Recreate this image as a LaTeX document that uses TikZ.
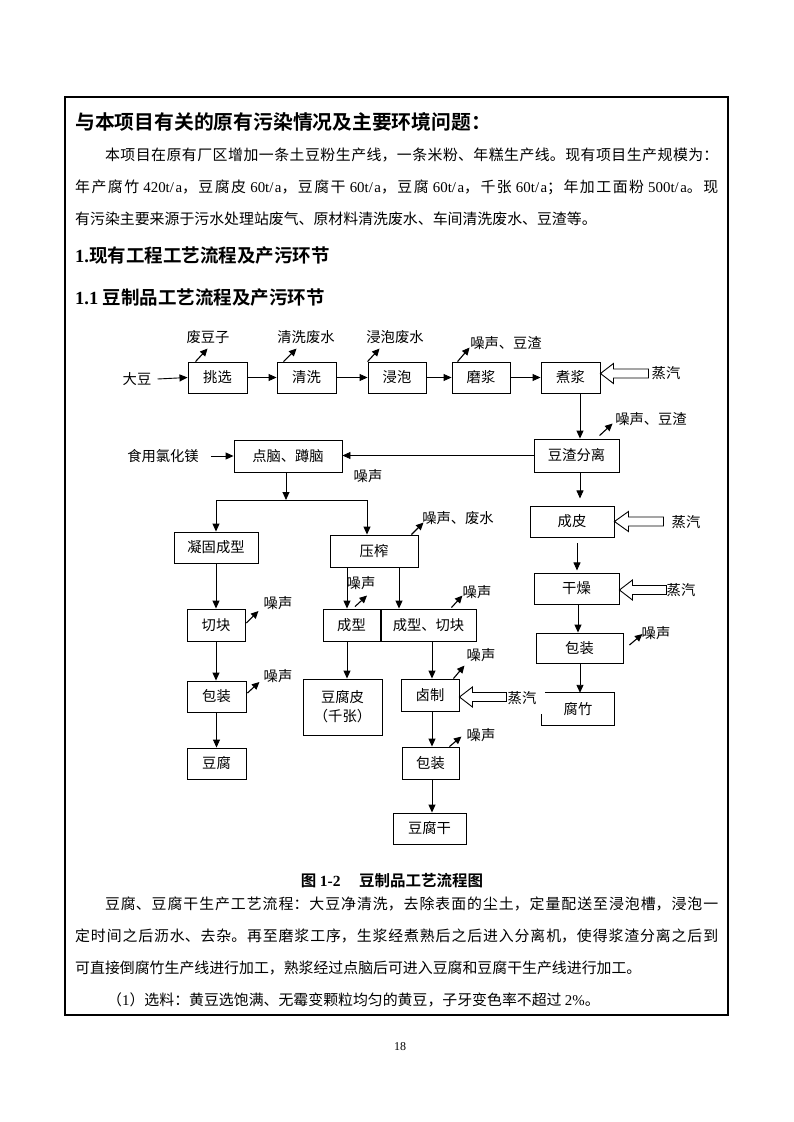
\documentclass[tikz,border=0pt]{standalone}
\usepackage{fontspec}
\setmainfont{Noto Sans CJK SC}[BoldFont={Noto Sans CJK SC Bold}]
\newfontfamily\tnr{Liberation Serif}
\usetikzlibrary{arrows.meta,calc}
\XeTeXlinebreaklocale "zh"
\XeTeXlinebreakskip = 0pt plus 3pt
\newcommand\bodyfs{\fontsize{14.9}{20}\selectfont}
\newcommand\chartfs{\fontsize{14.3}{17}\selectfont}
\begin{document}
\begin{tikzpicture}[x=1pt,y=-1pt,
  box/.style={draw, line width=0.9pt, inner sep=0pt, font=\chartfs},
  lbl/.style={inner sep=0pt, font=\chartfs},
  arr/.style={-{Triangle[length=8pt,width=7pt]}, line width=0.9pt},
  emit/.style={-{Triangle[length=7.5pt,width=7pt]}, line width=1.1pt},
  steam/.style={draw, line width=0.9pt, line join=miter},
  ln/.style={line width=0.9pt},
  txt/.style={anchor=base west, inner sep=0pt, font=\bodyfs}]
\useasboundingbox (0,0) rectangle (793,1122);
\fill[white] (0,0) rectangle (793,1122);
% frame
\draw[line width=1.5pt] (65,97) rectangle (728,1015);

% ---------- text above ----------
\node[anchor=base west, inner sep=0pt, font=\fontsize{19.8}{22}\selectfont\bfseries] (title) at (75,129.5) {与本项目有关的原有污染情况及主要环境问题：};
\node[txt] (p1a) at (75,160.7) {\parbox[b]{643pt}{\bodyfs\parfillskip=0pt\hspace*{2em}本项目在原有厂区增加一条土豆粉生产线，一条米粉、年糕生产线。现有项目生产规模为：}};
\node[txt] (p1b) at (75,192.7) {\parbox[b]{643pt}{\bodyfs\parfillskip=0pt 年产腐竹 {\tnr 420t/a}，豆腐皮 {\tnr 60t/a}，豆腐干 {\tnr 60t/a}，豆腐 {\tnr 60t/a}，千张 {\tnr 60t/a}；年加工面粉 {\tnr 500t/a}。现}};
\node[txt] (p1c) at (75,224.7) {有污染主要来源于污水处理站废气、原材料清洗废水、车间清洗废水、豆渣等。};
\node[anchor=base west, inner sep=0pt, font=\fontsize{18.5}{22}\selectfont\bfseries] (h1) at (75,262) {{\tnr\bfseries 1.}现有工程工艺流程及产污环节};
\node[anchor=base west, inner sep=0pt, font=\fontsize{18.5}{22}\selectfont\bfseries] (h2) at (75,304) {{\tnr\bfseries 1.1 }豆制品工艺流程及产污环节};

% ---------- boxes ----------
\node[box, minimum width=59pt, minimum height=31pt] (tiaoxuan) at (217.5,377.5) {挑选};
\node[box, minimum width=59pt, minimum height=31pt] (qingxi) at (306.5,377.5) {清洗};
\node[box, minimum width=58pt, minimum height=31pt] (jinpao) at (397,377.5) {浸泡};
\node[box, minimum width=58pt, minimum height=31pt] (mojiang) at (481,377.5) {磨浆};
\node[box, minimum width=59pt, minimum height=31pt] (zhujiang) at (570.5,377.5) {煮浆};
\node[box, minimum width=85pt, minimum height=33pt] (douzha) at (576.5,455.5) {豆渣分离};
\node[box, minimum width=108pt, minimum height=32pt] (diannao) at (288,456) {点脑、蹲脑};
\node[box, minimum width=84pt, minimum height=31pt] (ninggu) at (216,547.5) {凝固成型};
\node[box, minimum width=88pt, minimum height=32pt] (yazha) at (374,551) {压榨};
\node[box, minimum width=58pt, minimum height=32pt] (qiekuai) at (216,625) {切块};
\node[box, minimum width=57pt, minimum height=32pt] (chengxing) at (351.5,625) {成型};
\node[box, minimum width=95pt, minimum height=32pt] (chengxingqk) at (428.5,625) {成型、切块};
\node[box, minimum width=59pt, minimum height=31pt] (baozhuang1) at (216.5,696.5) {包装};
\node[box, minimum width=59pt, minimum height=31pt] (doufu) at (216.5,763.5) {豆腐};
\node[box, minimum width=79pt, minimum height=56pt, align=center] (doufupi) at (342.5,707) {豆腐皮\\[2pt]（千张）};
\node[box, minimum width=58pt, minimum height=32pt] (luzhi) at (430,695) {卤制};
\node[box, minimum width=57pt, minimum height=32pt] (baozhuang2) at (430.5,763) {包装};
\node[box, minimum width=73pt, minimum height=31pt] (doufugan) at (429.5,828.5) {豆腐干};
\node[box, minimum width=84pt, minimum height=31pt] (chengpi) at (572,521.5) {成皮};
\node[box, minimum width=85pt, minimum height=31pt] (ganzao) at (576.5,588.5) {干燥};
\node[box, minimum width=87pt, minimum height=30pt] (baozhuang3) at (579.5,648) {包装};
\node[lbl, minimum width=72pt, minimum height=32pt] (fuzhu) at (578,709) {腐竹};
\draw[ln] ([xshift=3pt]fuzhu.north west) -- (fuzhu.north east) -- (fuzhu.south east) -- (fuzhu.south west) -- ([yshift=11pt]fuzhu.south west);

% ---------- labels ----------
\node[lbl] (dadou) at (137,379) {大豆};
\node[lbl] (mgcl) at (163,456) {食用氯化镁};
\node[lbl] (e1) at (208,337) {废豆子};
\node[lbl] (e2) at (306,337) {清洗废水};
\node[lbl] (e3) at (395,337) {浸泡废水};
\node[lbl] (e4) at (506,343) {噪声、豆渣};
\node[lbl] (e5) at (651,419) {噪声、豆渣};
\node[lbl] (e6) at (368,476) {噪声};
\node[lbl] (e7) at (458,518) {噪声、废水};
\node[lbl] (e8) at (278,603) {噪声};
\node[lbl] (e9) at (361,583) {噪声};
\node[lbl] (e10) at (477,592) {噪声};
\node[lbl] (e11) at (278,676) {噪声};
\node[lbl] (e12) at (481,655) {噪声};
\node[lbl] (e13) at (481,735) {噪声};
\node[lbl] (e14) at (656,633) {噪声};
\node[lbl] (s1) at (666,373) {蒸汽};
\node[lbl] (s2) at (686,522) {蒸汽};
\node[lbl] (s3) at (681,590) {蒸汽};
\node[lbl] (s4) at (522,698) {蒸汽};

% ---------- main flow ----------
\draw[arr] ([xshift=6pt]dadou.east) -- (tiaoxuan.west);
\draw[arr] (tiaoxuan) -- (qingxi);
\draw[arr] (qingxi) -- (jinpao);
\draw[arr] (jinpao) -- (mojiang);
\draw[arr] (mojiang) -- (zhujiang);
\draw[arr] ([xshift=9.5pt]zhujiang.south) -- ([xshift=9.5pt]zhujiang.south |- douzha.north);
\draw[arr] (douzha.west) -- (douzha.west -| diannao.east);
\draw[arr] ([xshift=12pt]mgcl.east) -- (diannao.west);
\coordinate (splitL) at (216,500);
\coordinate (splitR) at (367,500);
\draw[arr] ([xshift=-2pt]diannao.south) -- ([xshift=-2pt]diannao.south |- splitL);
\draw[ln] (splitL) -- (splitR);
\draw[arr] (splitL) -- (ninggu.north);
\draw[arr] (splitR) -- (splitR |- yazha.north);
\draw[arr] (ninggu) -- (qiekuai);
\draw[arr] (qiekuai.south) -- (qiekuai.south |- baozhuang1.north);
\draw[arr] (baozhuang1) -- (doufu);
\draw[arr] ([xshift=-27pt]yazha.south) -- ([xshift=-27pt]yazha.south |- chengxing.north);
\draw[arr] ([xshift=25pt]yazha.south) -- ([xshift=25pt]yazha.south |- chengxingqk.north);
\draw[arr] ([xshift=-4.5pt]chengxing.south) -- ([xshift=-4.5pt]chengxing.south |- doufupi.north);
\draw[arr] ([xshift=2pt]luzhi.north |- chengxingqk.south) -- ([xshift=2pt]luzhi.north);
\draw[arr] ([xshift=2pt]luzhi.south) -- ([xshift=2pt]luzhi.south |- baozhuang2.north);
\draw[arr] ([xshift=2pt]luzhi.south |- baozhuang2.south) -- ([xshift=2pt]luzhi.south |- doufugan.north);
\draw[arr] ([xshift=3.5pt]douzha.south) -- ++(0,26);
\draw[arr] ([xshift=5pt,yshift=-6pt]chengpi.south) -- ++(0,27);
\draw[arr] ([xshift=1.5pt]ganzao.south) -- ([xshift=1.5pt]ganzao.south |- baozhuang3.north);
\draw[arr] ([xshift=0.5pt]baozhuang3.south) -- ([xshift=0.5pt]baozhuang3.south |- fuzhu.north);

% ---------- emission arrows ----------
\draw[emit] ([xshift=8pt]tiaoxuan.north west) -- ++(12,-13);
\draw[emit] ([xshift=7pt]qingxi.north west) -- ++(13,-13);
\draw[emit] (jinpao.north west) -- ++(12,-13);
\draw[emit] ([xshift=6pt]mojiang.north west) -- ++(12,-14);
\draw[emit] ($(douzha.north west)+(66,-3)$) -- ++(13,-12);
\draw[emit] ([xshift=-7pt]yazha.north east) -- ++(12,-12);
\draw[emit] ($(qiekuai.east)+(1,-2)$) -- ++(12,-12);
\draw[emit] ($(chengxing.north)+(3.5,-2)$) -- ++(12,-11);
\draw[emit] ($(chengxingqk.north east)+(-25,-1)$) -- ++(11,-12);
\draw[emit] ($(baozhuang1.east)+(1,-3.5)$) -- ++(12,-11);
\draw[emit] ([xshift=-6pt]luzhi.north east) -- ++(11,-13);
\draw[emit] ([xshift=-10pt]baozhuang2.north east) -- ++(12,-10);
\draw[emit] ($(baozhuang3.east)+(6,-3)$) -- ++(13,-11);

% ---------- steam arrows ----------
\draw[steam] ([yshift=4pt]zhujiang.east) -- ++(13,-10) -- ++(0,5.5) -- ++(35,0) -- ++(0,9) -- ++(-35,0) -- ++(0,5.5) -- cycle;
\draw[steam] (chengpi.east) -- ++(14,-10) -- ++(0,5.5) -- ++(35,0) -- ++(0,9) -- ++(-35,0) -- ++(0,5.5) -- cycle;
\draw[steam] ([yshift=-1.5pt]ganzao.east) -- ++(13,-10) -- ++(0,5.5) -- ++(34,0) -- ++(0,9) -- ++(-34,0) -- ++(0,5.5) -- cycle;
\draw[steam] ([yshift=-2pt]luzhi.east) -- ++(13,-10) -- ++(0,5.5) -- ++(34,0) -- ++(0,9) -- ++(-34,0) -- ++(0,5.5) -- cycle;

% ---------- text below ----------
\node[anchor=base, inner sep=0pt, font=\fontsize{15.5}{18}\selectfont\bfseries] (caption) at (392,886) {图 {\tnr\bfseries 1-2}\hspace{1.2em}豆制品工艺流程图};
\node[txt] (p2a) at (75,909.7) {\parbox[b]{643pt}{\bodyfs\parfillskip=0pt\hspace*{2em}豆腐、豆腐干生产工艺流程：大豆净清洗，去除表面的尘土，定量配送至浸泡槽，浸泡一}};
\node[txt] (p2b) at (75,941.7) {\parbox[b]{643pt}{\bodyfs\parfillskip=0pt 定时间之后沥水、去杂。再至磨浆工序，生浆经煮熟后之后进入分离机，使得浆渣分离之后到}};
\node[txt] (p2c) at (75,973.7) {可直接倒腐竹生产线进行加工，熟浆经过点脑后可进入豆腐和豆腐干生产线进行加工。};
\node[txt] (p2d) at (107,1005.7) {（{\tnr 1}）选料：黄豆选饱满、无霉变颗粒均匀的黄豆，子牙变色率不超过 {\tnr 2\%}。};
\node[anchor=base, inner sep=0pt, font=\tnr\fontsize{12}{14}\selectfont] (pageno) at (400,1050) {18};
\end{tikzpicture}
\end{document}
